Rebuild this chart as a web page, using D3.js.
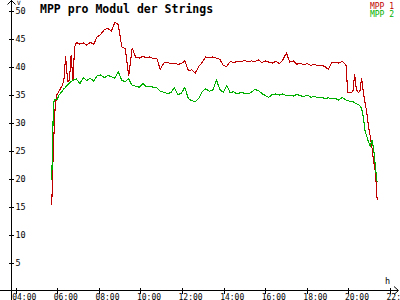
<!DOCTYPE html>
<html><head><meta charset="utf-8">
<script src="https://cdn.jsdelivr.net/npm/d3@7"></script>
<style>
html,body{margin:0;padding:0;background:#fff;}
svg{display:block;}
text{font-family:"DejaVu Sans Mono","Liberation Mono",monospace;}
</style></head><body>
<svg id="c" width="400" height="300"></svg>
<script>
const title = "MPP pro Modul der Strings";
const seriesNames = ["MPP 1", "MPP 2"];
const seriesColors = ["#c00000", "#00b000"];
const yTicks = [5,10,15,20,25,30,35,40,45,50];
const xTicks = [4,6,8,10,12,14,16,18,20,22];
const times = ["5:44","5:49","5:54","5:59","6:04","6:09","6:14","6:19","6:24","6:30","6:35","6:40","6:45","6:50","6:55",
"7:05","7:15","7:25","7:35","7:45","7:55","8:05","8:16","8:26","8:36","8:46","8:56","9:06","9:16","9:26","9:36","9:46","9:57",
"10:07","10:17","10:27","10:37","10:47","10:57","11:07","11:17","11:27","11:38","11:48","11:58","12:08","12:18","12:28","12:38","12:48","12:58",
"13:08","13:19","13:29","13:39","13:49","13:59","14:09","14:19","14:29","14:39","14:50","15:00","15:10","15:20","15:30","15:40","15:50","16:00",
"16:10","16:20","16:31","16:41","16:51","17:01","17:11","17:21","17:31","17:41","17:51","18:01","18:12","18:22","18:32","18:42","18:52",
"19:02","19:12","19:22","19:32","19:42","19:53","19:58","20:03","20:08","20:13","20:18","20:23","20:28","20:33","20:38","20:43","20:48",
"20:53","20:58","21:03","21:08","21:13","21:18","21:23"];
const mpp1 = [15.2,26,33,35,35.5,36.0,36.6,37.5,41.8,37.3,37.5,42.1,37.5,43.5,44.3,
44.0,44.2,43.8,44.3,44.0,45.3,45.7,46.6,46.8,46.3,47.9,47.5,43.5,43.2,38.3,43.3,41.7,41.5,
41.8,41.6,41.7,41.4,41.5,39.5,40.6,40.8,40.5,40.6,40.4,40.5,41.0,39.3,39.4,38.8,40.0,40.7,
41.7,41.6,41.7,41.5,41.3,40.2,40.0,40.9,40.7,40.9,40.8,41.1,40.8,41.0,40.9,41.2,40.7,41.0,
40.8,40.6,40.9,40.5,41.2,42.4,40.8,41.0,40.4,40.6,40.3,40.5,40.2,40.4,40.1,40.2,40.0,
39.5,40.7,40.8,40.6,40.9,40.3,35.4,35.4,35.4,35.5,38.6,35.9,35.4,35.5,38.0,35.4,33.5,
31.8,29.3,27.5,25.5,23.0,21.0,16.2];
const mpp2 = [19.8,33.5,34.2,34.0,34.8,35.2,35.6,36.0,36.3,36.8,37.0,37.3,37.5,37.7,37.8,
36.9,38.0,37.5,37.9,37.4,38.3,38.5,38.0,38.4,38.2,37.9,39.1,37.5,37.3,37.8,36.6,36.5,36.3,
37.0,36.4,36.5,36.3,36.2,35.6,35.4,35.2,35.3,36.2,35.0,35.2,36.3,34.3,33.9,33.7,34.3,35.5,
36.0,35.6,35.8,37.6,35.9,35.4,36.6,35.3,35.5,35.1,35.4,35.2,35.1,35.4,35.9,35.7,35.2,34.8,
34.5,35.0,35.1,34.9,35.1,34.8,34.9,34.7,35.0,34.8,34.6,34.9,34.5,34.7,34.4,34.5,34.3,
34.4,34.2,34.3,34.0,34.5,34.0,33.9,33.8,33.7,33.8,33.5,33.4,33.2,33.0,32.5,31.0,28.5,
27.5,26.5,25.8,26.8,25.2,22.0,19.3];

const svg = d3.select("#c");
svg.append("rect").attr("width",400).attr("height",300).attr("fill","#fff");

const toH = s => { const [h,m] = s.split(":").map(Number); return h + m/60; };
const x = d3.scaleLinear().domain([4,22]).range([15.7,390]);
const y = d3.scaleLinear().domain([0,50]).range([290.5,10.5]);
const axX = 11.5, axY = 290.5;

// axes lines
svg.append("line").attr("x1",axX).attr("x2",axX).attr("y1",0).attr("y2",300).attr("stroke","#000").attr("shape-rendering","crispEdges");
svg.append("line").attr("x1",0).attr("x2",398).attr("y1",axY).attr("y2",axY).attr("stroke","#000").attr("shape-rendering","crispEdges");
svg.append("path").attr("d",`M${axX-4},4.5 L${axX},0.5 L${axX+4},4.5`).attr("fill","none").attr("stroke","#000");
svg.append("path").attr("d",`M394,${axY-4} L398.5,${axY} L394,${axY+4}`).attr("fill","none").attr("stroke","#000");

// y axis
const gy = svg.append("g").attr("transform",`translate(${axX},0)`)
  .call(d3.axisRight(y).tickValues(yTicks).tickSize(3).tickFormat(d3.format("d")));
gy.select(".domain").remove();
gy.selectAll(".tick line").attr("x1",-3).attr("x2",2).attr("stroke","#000").attr("shape-rendering","crispEdges");
gy.selectAll(".tick text").attr("x",4).attr("dy","0.35em").attr("fill","#000")
  .style("font-size","8.5px").style("font-family","'DejaVu Sans Mono',monospace");

// x axis
const gx = svg.append("g").attr("transform",`translate(0,${axY})`)
  .call(d3.axisBottom(x).tickValues(xTicks).tickSize(3).tickFormat(d => String(d).padStart(2,"0") + ":00"));
gx.select(".domain").remove();
gx.selectAll(".tick line").attr("y1",-3).attr("y2",3).attr("stroke","#000").attr("shape-rendering","crispEdges");
gx.selectAll(".tick text").attr("y",9).attr("dy","0").attr("x",-4).attr("text-anchor","start").attr("fill","#000")
  .style("font-size","8px").style("font-family","'DejaVu Sans Mono',monospace");

// unit labels
svg.append("text").attr("x",17).attr("y",5).text("V").style("font-size","6px").attr("fill","#000");
svg.append("text").attr("x",385).attr("y",284).text("h").style("font-size","8.5px").attr("fill","#000");

// title
svg.append("text").attr("x",40).attr("y",13).text(title)
  .style("font-size","11.5px").style("font-weight","bold").attr("fill","#000");

// legend
seriesNames.forEach((n,i) => {
  svg.append("text").attr("x",394).attr("y",8.5 + i*8).attr("text-anchor","end").text(n)
    .attr("fill",seriesColors[i]).style("font-size","8px");
});

// lines
const line = d3.line().x(d => x(d[0])).y(d => y(d[1]));
[mpp1, mpp2].forEach((vals,i) => {
  const pts = times.map((t,j) => [toH(t), vals[j]]);
  svg.append("path").datum(pts).attr("d",line).attr("fill","none")
    .attr("stroke",seriesColors[i]).attr("stroke-width",1.1).attr("shape-rendering","crispEdges");
});
</script></body></html>
